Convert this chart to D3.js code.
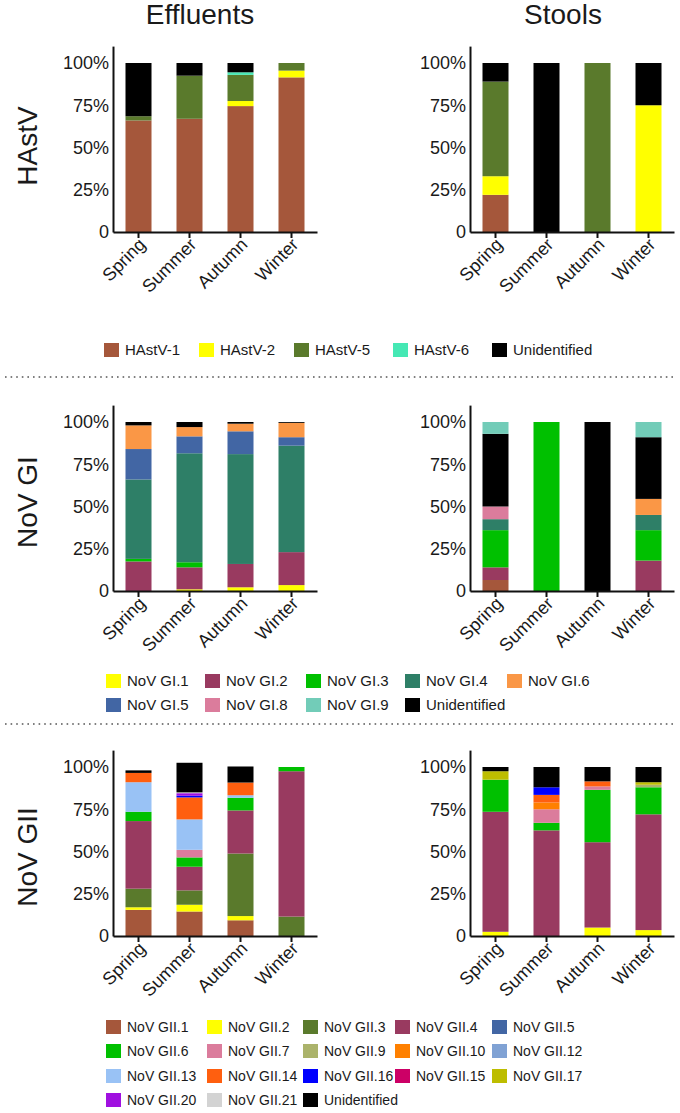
<!DOCTYPE html>
<html><head><meta charset="utf-8">
<script src="https://cdn.jsdelivr.net/npm/d3@7"></script>
<style>
body{margin:0;background:#fff}
svg{display:block}
text{font-family:"Liberation Sans",Arial,sans-serif;fill:#1a1a1a}
</style>
</head><body>
<svg id="c" width="680" height="1113"></svg>
<script>
// ---------- DATA ----------
const seasons = ["Spring", "Summer", "Autumn", "Winter"];
const yTickValues = [0, 25, 50, 75, 100];
const yTickLabels = ["0", "25%", "50%", "75%", "100%"];
const columnTitles = ["Effluents", "Stools"];
const rowTitles = ["HAstV", "NoV GI", "NoV GII"];

// HAstV (stack order bottom -> top)
const hastvTypes = ["HAstV-1", "HAstV-2", "HAstV-5", "HAstV-6", "Unidentified"];
const hastvColors = ["#A5573B", "#FFFF00", "#5A7A2C", "#45E8B4", "#000000"];
const hastvEffluents = [
  [66, 67, 74.5, 91.5],
  [0, 0, 3, 4],
  [2.5, 25.5, 15.5, 4.5],
  [0, 0, 1.5, 0],
  [31.5, 7.5, 5.5, 0]
];
const hastvStools = [
  [22, 0, 0, 0],
  [11, 0, 0, 75],
  [56, 0, 100, 0],
  [0, 0, 0, 0],
  [11, 100, 0, 25]
];
const hastvLegend = ["HAstV-1", "HAstV-2", "HAstV-5", "HAstV-6", "Unidentified"];

// NoV GI (stack order bottom -> top)
const giTypes = ["NoV GI (other)", "NoV GI.1", "NoV GI.2", "NoV GI.3", "NoV GI.4", "NoV GI.5", "NoV GI.6", "NoV GI.8", "Unidentified", "NoV GI.9"];
const giColors = ["#A5573B", "#FFFF00", "#993A60", "#00C000", "#2E7F67", "#4266A4", "#FA9746", "#DB7C9C", "#000000", "#72CCB8"];
const giEffluents = [
  [0, 0, 0, 0],
  [0, 1, 2.2, 3.5],
  [17.5, 13, 13.8, 19.5],
  [1.5, 3, 0, 0],
  [47, 64.5, 65, 63],
  [18, 10, 13.5, 5],
  [14, 5.5, 4.5, 8.5],
  [0, 0, 0, 0],
  [2, 3, 1, 0.5],
  [0, 0, 0, 0]
];
const giStools = [
  [6.5, 0, 0, 0],
  [0, 0, 0, 0],
  [7.5, 0, 0, 18],
  [22, 100, 0, 18],
  [6.5, 0, 0, 9],
  [0, 0, 0, 0],
  [0, 0, 0, 9.5],
  [7.5, 0, 0, 0],
  [43, 0, 100, 36.5],
  [7, 0, 0, 9]
];
const giLegend = [
  ["NoV GI.1", "NoV GI.2", "NoV GI.3", "NoV GI.4", "NoV GI.6"],
  ["NoV GI.5", "NoV GI.8", "NoV GI.9", "Unidentified"]
];

// NoV GII (stack order bottom -> top)
const giiTypes = ["NoV GII.1", "NoV GII.2", "NoV GII.3", "NoV GII.4", "NoV GII.5", "NoV GII.6", "NoV GII.7", "NoV GII.9", "NoV GII.10", "NoV GII.12", "NoV GII.13", "NoV GII.14", "NoV GII.15", "NoV GII.16", "NoV GII.17", "NoV GII.20", "NoV GII.21", "Unidentified"];
const giiColors = ["#A5573B", "#FFFF00", "#5A7A2C", "#993A60", "#4266A4", "#00C000", "#DB7C9C", "#ABB36B", "#FF8000", "#80A2D4", "#99C2F5", "#FF5F0F", "#CC0066", "#0000FF", "#BDBD00", "#A010E0", "#D3D3D3", "#000000"];
const giiEffluents = [
  [15.5, 14.5, 9.3, 0],
  [1.5, 4, 2.5, 0],
  [11, 8.5, 37, 11.5],
  [40, 14, 25.5, 86],
  [0, 0, 0, 0],
  [5.5, 5.5, 7.5, 2.5],
  [0, 4.5, 0, 0],
  [0, 0, 0, 0],
  [0, 0, 0, 0],
  [0, 0, 0, 0],
  [17.5, 18, 1.5, 0],
  [5.5, 13, 7.5, 0],
  [0, 0, 0, 0],
  [0, 1, 0, 0],
  [0, 0, 0, 0],
  [0, 1.5, 0, 0],
  [0, 0.5, 0, 0],
  [1.5, 17.5, 9.5, 0]
];
const giiStools = [
  [0, 0, 0, 0],
  [2.5, 0, 5, 3.5],
  [0, 0, 0, 0],
  [71, 62.5, 50.5, 68.5],
  [0, 0, 0, 0],
  [19, 4.5, 31, 16],
  [0, 8, 2, 0],
  [0, 0, 0, 1.5],
  [0, 4, 0, 0],
  [0, 0, 0, 0],
  [0, 0, 0, 0],
  [0, 4.5, 3, 0],
  [0, 0, 0, 0],
  [0, 4.5, 0, 0],
  [5, 0, 0, 1.5],
  [0, 0, 0, 0],
  [0, 0, 0, 0],
  [2.5, 12, 8.5, 9]
];
const giiLegend = [
  ["NoV GII.1", "NoV GII.2", "NoV GII.3", "NoV GII.4", "NoV GII.5"],
  ["NoV GII.6", "NoV GII.7", "NoV GII.9", "NoV GII.10", "NoV GII.12"],
  ["NoV GII.13", "NoV GII.14", "NoV GII.16", "NoV GII.15", "NoV GII.17"],
  ["NoV GII.20", "NoV GII.21", "Unidentified"]
];

// ---------- LAYOUT ----------
const svg = d3.select("#c");
const panelX = [113, 470];
const panelW = 204;
const rowBase = [232, 591, 936];
const pxPer100 = 169;

function drawPanel(x0, y0, types, colors, values) {
  const g = svg.append("g");
  const x = d3.scaleBand().domain(seasons).range([x0, x0 + panelW])
    .paddingInner(0.49).paddingOuter(0.245);
  const y = d3.scaleLinear().domain([0, 110]).range([y0, y0 - pxPer100 * 1.1]);
  const rows = seasons.map((s, i) => {
    const r = {season: s};
    types.forEach((t, k) => r[t] = values[k][i]);
    return r;
  });
  const stack = d3.stack().keys(types)(rows);
  const color = d3.scaleOrdinal().domain(types).range(colors);
  g.selectAll("g.layer").data(stack).join("g").attr("class", "layer")
    .attr("fill", d => color(d.key))
    .selectAll("rect").data(d => d.filter(p => p[1] - p[0] > 0)).join("rect")
    .attr("x", d => x(d.data.season))
    .attr("width", x.bandwidth())
    .attr("y", d => y(d[1]))
    .attr("height", d => y(d[0]) - y(d[1]));

  const ya = g.append("g").attr("transform", `translate(${x0},0)`)
    .call(d3.axisLeft(y).tickValues(yTickValues)
      .tickFormat((d, i) => yTickLabels[i]).tickSize(0).tickSizeOuter(0).tickPadding(4));
  ya.select(".domain").attr("stroke", "#111").attr("stroke-width", 2);
  ya.selectAll("text").attr("font-size", 18).attr("fill", "#1a1a1a")
    .style("font-family", "'Liberation Sans', Arial, sans-serif");

  const xa = g.append("g").attr("transform", `translate(0,${y0})`)
    .call(d3.axisBottom(x).tickSize(6).tickSizeOuter(0));
  xa.select(".domain").attr("stroke", "#111").attr("stroke-width", 2);
  xa.selectAll(".tick line").attr("stroke", "#111").attr("stroke-width", 2);
  xa.selectAll("text").attr("font-size", 18).attr("fill", "#1a1a1a")
    .style("font-family", "'Liberation Sans', Arial, sans-serif")
    .attr("x", -4).attr("y", 9).attr("dy", "0.35em")
    .attr("transform", "rotate(-45)").style("text-anchor", "end");
}

function drawLegend(rowsList, types, colors, colX, rowY, fs) {
  const color = d3.scaleOrdinal().domain(types).range(colors);
  rowsList.forEach((row, ri) => {
    row.forEach((name, ci) => {
      const g = svg.append("g").attr("transform", `translate(${colX[ci]},${rowY[ri]})`);
      g.append("rect").attr("x", 0).attr("y", -7).attr("width", 15).attr("height", 14)
        .attr("fill", color(name));
      g.append("text").attr("x", 21).attr("y", 0).attr("dy", "0.35em")
        .attr("font-size", fs).text(name);
    });
  });
}

// titles
columnTitles.forEach((t, i) => {
  svg.append("text").attr("x", [200, 563][i]).attr("y", 24)
    .attr("text-anchor", "middle").attr("font-size", 28).text(t);
});
rowTitles.forEach((t, i) => {
  svg.append("text").attr("transform", `translate(37,${[146, 502, 857][i]}) rotate(-90)`)
    .attr("text-anchor", "middle").attr("font-size", 28).text(t);
});

// separators
[377, 724].forEach(yy => {
  svg.append("line").attr("x1", 5).attr("x2", 676).attr("y1", yy).attr("y2", yy)
    .attr("stroke", "#555").attr("stroke-width", 1.6).attr("stroke-dasharray", "1.6,4");
});

drawPanel(panelX[0], rowBase[0], hastvTypes, hastvColors, hastvEffluents);
drawPanel(panelX[1], rowBase[0], hastvTypes, hastvColors, hastvStools);
drawPanel(panelX[0], rowBase[1], giTypes, giColors, giEffluents);
drawPanel(panelX[1], rowBase[1], giTypes, giColors, giStools);
drawPanel(panelX[0], rowBase[2], giiTypes, giiColors, giiEffluents);
drawPanel(panelX[1], rowBase[2], giiTypes, giiColors, giiStools);

drawLegend([hastvLegend], hastvTypes, hastvColors, [104, 199, 294, 393, 492], [350], 15);
drawLegend(giLegend, giTypes, giColors, [106, 205, 306, 405, 507], [681, 705], 15);
drawLegend(giiLegend, giiTypes, giiColors, [106, 207, 303, 395, 492], [1027, 1051, 1076, 1100], 14);
</script>
</body></html>
